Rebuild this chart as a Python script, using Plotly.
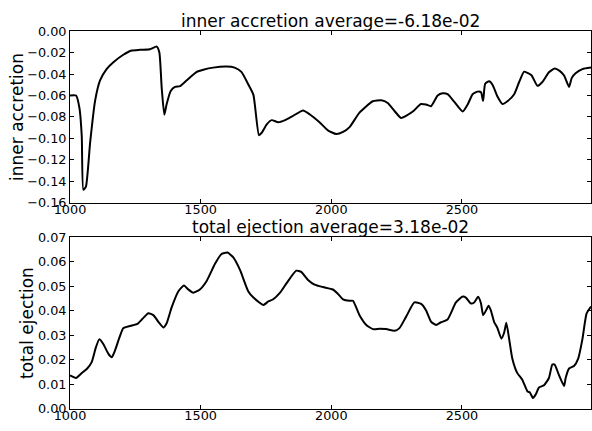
import plotly.graph_objects as go

# ---- data ----
acc_x = [1000, 1023, 1036, 1045, 1051, 1061, 1077, 1096, 1115, 1140, 1166, 1204, 1236, 1268, 1306,
         1332, 1342, 1351, 1361, 1370, 1385, 1402, 1421, 1446, 1485, 1510, 1548, 1599, 1630, 1656,
         1681, 1702, 1723, 1733, 1753, 1772, 1797, 1823, 1850, 1892, 1917, 1955, 1987, 2019, 2045,
         2070, 2108, 2159, 2191, 2216, 2242, 2267, 2286, 2312, 2343, 2363, 2382, 2407, 2426, 2445,
         2471, 2503, 2522, 2541, 2560, 2573, 2581, 2589, 2604, 2617, 2636, 2655, 2674, 2700, 2719,
         2738, 2751, 2767, 2789, 2808, 2833, 2855, 2874, 2891, 2910, 2920, 2935, 2961, 2994]
acc_y = [-0.060, -0.060, -0.0715, -0.098, -0.148, -0.145, -0.104, -0.065, -0.046, -0.0354, -0.029,
         -0.022, -0.018, -0.0174, -0.0168, -0.0144, -0.020, -0.053, -0.078, -0.068, -0.056, -0.052,
         -0.0513, -0.046, -0.038, -0.036, -0.034, -0.033, -0.034, -0.038, -0.049, -0.0594, -0.097,
         -0.095, -0.087, -0.083, -0.085, -0.083, -0.0795, -0.0739, -0.0775, -0.085, -0.0925, -0.096,
         -0.094, -0.0895, -0.076, -0.0654, -0.0645, -0.067, -0.0745, -0.081, -0.079, -0.075, -0.068,
         -0.0685, -0.070, -0.060, -0.058, -0.0588, -0.066, -0.075, -0.0684, -0.0588, -0.0564, -0.057,
         -0.065, -0.049, -0.0468, -0.050, -0.061, -0.068, -0.0654, -0.0588, -0.0474, -0.0378, -0.039,
         -0.0414, -0.051, -0.0474, -0.0384, -0.0348, -0.037, -0.0414, -0.052, -0.0438, -0.0393,
         -0.0354, -0.034]

ej_x = [1000, 1023, 1045, 1066, 1083, 1099, 1112, 1128, 1147, 1160, 1172, 1189, 1204, 1230, 1258,
        1278, 1300, 1319, 1338, 1357, 1370, 1389, 1415, 1436, 1453, 1472, 1497, 1523, 1555, 1580,
        1603, 1625, 1651, 1682, 1702, 1740, 1759, 1778, 1804, 1829, 1866, 1885, 1911, 1936, 1968,
        2006, 2025, 2045, 2070, 2083, 2108, 2134, 2159, 2184, 2210, 2242, 2261, 2286, 2318, 2344,
        2363, 2382, 2401, 2420, 2445, 2477, 2503, 2515, 2534, 2547, 2562, 2573, 2581, 2592, 2602,
        2611, 2623, 2636, 2651, 2662, 2670, 2681, 2693, 2712, 2731, 2751, 2760, 2772, 2783, 2795,
        2814, 2833, 2846, 2855, 2871, 2891, 2897, 2910, 2929, 2945, 2961, 2977, 2994]
ej_y = [0.01355, 0.0125, 0.0145, 0.0164, 0.019, 0.025, 0.0283, 0.0263, 0.0224, 0.021, 0.0237,
        0.029, 0.0329, 0.0338, 0.0346, 0.0368, 0.039, 0.0382, 0.0355, 0.0332, 0.0349, 0.0414,
        0.048, 0.0503, 0.0487, 0.0474, 0.0487, 0.0522, 0.0592, 0.0632, 0.0638, 0.0618, 0.0566,
        0.048, 0.0454, 0.0424, 0.0438, 0.0447, 0.0474, 0.0513, 0.0564, 0.0559, 0.0526, 0.0507,
        0.0497, 0.0487, 0.047, 0.0447, 0.0441, 0.0441, 0.0382, 0.0342, 0.0325, 0.0326, 0.0325,
        0.0318, 0.0329, 0.0375, 0.0434, 0.0428, 0.0401, 0.0355, 0.0342, 0.0353, 0.0364, 0.0434,
        0.0458, 0.0454, 0.043, 0.0434, 0.0457, 0.043, 0.0382, 0.0401, 0.0421, 0.0401, 0.0355,
        0.0329, 0.0286, 0.0312, 0.0351, 0.0283, 0.0204, 0.0145, 0.0118, 0.007, 0.0066, 0.0043,
        0.0059, 0.0086, 0.0095, 0.0125, 0.018, 0.018, 0.0138, 0.0092, 0.0125, 0.0164, 0.0174,
        0.0204, 0.0283, 0.0388, 0.0417]

acc_title = "inner accretion average=-6.18e-02"
ej_title = "total ejection average=3.18e-02"
acc_label = "inner accretion"
ej_label = "total ejection"
x_ticks = [1000, 1500, 2000, 2500]
acc_ticks = [0.00, -0.02, -0.04, -0.06, -0.08, -0.10, -0.12, -0.14, -0.16]
ej_ticks = [0.00, 0.01, 0.02, 0.03, 0.04, 0.05, 0.06, 0.07]

W, H = 592, 431
FONT = "DejaVu Sans"

fig = go.Figure()
fig.add_trace(go.Scatter(x=acc_x, y=acc_y, mode="lines", xaxis="x", yaxis="y",
                         line=dict(color="black", width=2, shape="spline", smoothing=0.5),
                         showlegend=False))
fig.add_trace(go.Scatter(x=ej_x, y=ej_y, mode="lines", xaxis="x2", yaxis="y2",
                         line=dict(color="black", width=2, shape="spline", smoothing=0.5),
                         showlegend=False))

top_dom = [1 - 201.7 / H, 1 - 24 / H]
bot_dom = [1 - 415 / H, 1 - 237.7 / H]

axis_common = dict(showline=True, linecolor="black", linewidth=1, mirror="ticks",
                   ticks="inside", ticklen=4, tickcolor="black", showgrid=False,
                   zeroline=False, tickfont=dict(family=FONT, size=12.8, color="black"))

fig.update_layout(
    width=W, height=H,
    margin=dict(l=70, r=1, t=0, b=0),
    paper_bgcolor="white", plot_bgcolor="white",
    font=dict(family=FONT, color="black"),
    xaxis=dict(domain=[0, 1], range=[1000, 2994], tickvals=x_ticks, anchor="y",
               ticklabelstandoff=-5, **axis_common),
    yaxis=dict(domain=top_dom, range=[-0.16, 0.0], tickvals=acc_ticks, tickformat=".2f",
               anchor="x", **axis_common),
    xaxis2=dict(domain=[0, 1], range=[1000, 2994], tickvals=x_ticks, anchor="y2",
                ticklabelstandoff=-5, **axis_common),
    yaxis2=dict(domain=bot_dom, range=[0.0, 0.07], tickvals=ej_ticks, tickformat=".2f",
                anchor="x2", **axis_common),
)

fig.add_annotation(text=acc_title, xref="paper", yref="paper", x=0.5, y=top_dom[1],
                   xanchor="center", yanchor="bottom", showarrow=False, yshift=-2,
                   font=dict(family=FONT, size=17, color="black"))
fig.add_annotation(text=ej_title, xref="paper", yref="paper", x=0.5, y=bot_dom[1],
                   xanchor="center", yanchor="bottom", showarrow=False, yshift=-2,
                   font=dict(family=FONT, size=17, color="black"))
fig.add_annotation(text=acc_label, xref="paper", yref="paper", x=(17 - 70) / 521,
                   y=(top_dom[0] + top_dom[1]) / 2, textangle=-90, xanchor="center",
                   yanchor="middle", showarrow=False,
                   font=dict(family=FONT, size=17, color="black"))
fig.add_annotation(text=ej_label, xref="paper", yref="paper", x=(27 - 70) / 521,
                   y=(bot_dom[0] + bot_dom[1]) / 2, textangle=-90, xanchor="center",
                   yanchor="middle", showarrow=False,
                   font=dict(family=FONT, size=17, color="black"))

fig.write_html("out.html")
